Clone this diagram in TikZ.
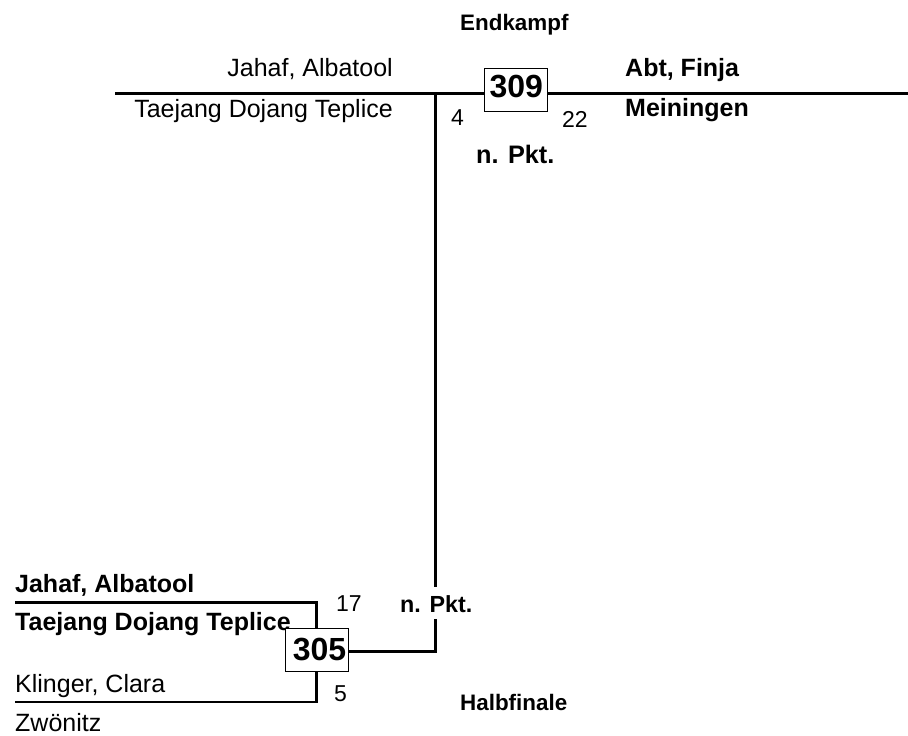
\documentclass[tikz,border=0pt]{standalone}
\usepackage{fontspec}
\setmainfont{Liberation Sans}
\usetikzlibrary{backgrounds}
\newcommand\myfs[1]{\fontsize{#1}{#1}\selectfont}
\tikzset{
  txt/.style={inner sep=0pt, anchor=base west},
  txtr/.style={inner sep=0pt, anchor=base east},
  namefont/.style={font=\myfs{25}},
  namebold/.style={font=\myfs{25}\bfseries},
  scorefont/.style={font=\myfs{23}},
  roundfont/.style={font=\myfs{22.4}\bfseries},
  matchbox/.style={draw, line width=1pt, fill=white, minimum width=63pt, minimum height=43pt, inner sep=0pt, font=\myfs{32}\bfseries},
  bline/.style={line width=2.5pt}
}
\begin{document}
\begin{tikzpicture}[x=1pt,y=-1pt]
\useasboundingbox (0,0) rectangle (908,736);
% Endkampf
\node[txt, roundfont] (endk) at (460,30) {Endkampf};
\node[txtr, namefont] (t1name) at (393,76.7) {Jahaf, Albatool};
\node[txtr, namefont] (t1club) at (393,117) {Taejang Dojang Teplice};
\node[txt, namebold] (t2name) at (625,76.7) {Abt, Finja};
\node[txt, namebold] (t2club) at (625,116.5) {Meiningen};
\node[txt, scorefont] (s1) at (451,125) {4};
\node[txt, scorefont] (s2) at (562,127.5) {22};
\node[txt, font=\myfs{25.3}\bfseries] (np1) at (476,163) {n. Pkt.};
\node[matchbox, text depth=6pt] (m309) at (516.3,89.7) {309};
% Halbfinale
\node[txt, namebold] (b1name) at (15,592) {Jahaf, Albatool};
\node[txt, namebold] (b1club) at (15,630) {Taejang Dojang Teplice};
\node[txt, namefont] (b2name) at (15,692) {Klinger, Clara};
\node[txt, namefont] (b2club) at (15,731) {Zwönitz};
\node[txt, scorefont] (s3) at (336,611) {17};
\node[txt, scorefont] (s4) at (334,701) {5};
\node[txt, font=\myfs{23.3}\bfseries] (np2) at (400,612.7) {n. Pkt.};
\node[txt, roundfont] (halb) at (460,710) {Halbfinale};
\node[matchbox, text depth=1pt] (m305) at (316.5,649.7) {\hspace*{6pt}305};
% connectors
\coordinate (tl) at (115,93.3);
\coordinate (tr) at (908,93.3);
\coordinate (j) at (435.7,93.3);
\coordinate (gtop) at (435.7,586.7);
\coordinate (gbot) at (435.7,619);
\coordinate (corner) at (435.7,651.7);
\coordinate (b1) at (15,602.3);
\coordinate (b2) at (15,702);
\begin{scope}[on background layer]
\draw[bline] (tl) -- (tr);
\draw[bline] (j) -- (gtop);
\draw[bline] (gbot) -- (corner) -- (corner -| m305.east);
\draw[bline] (b1) -- (b1 -| m305.north) -- (m305.north);
\draw[bline] (m305.south) -- (m305.south |- b2) -- (b2);
\end{scope}
\end{tikzpicture}
\end{document}
